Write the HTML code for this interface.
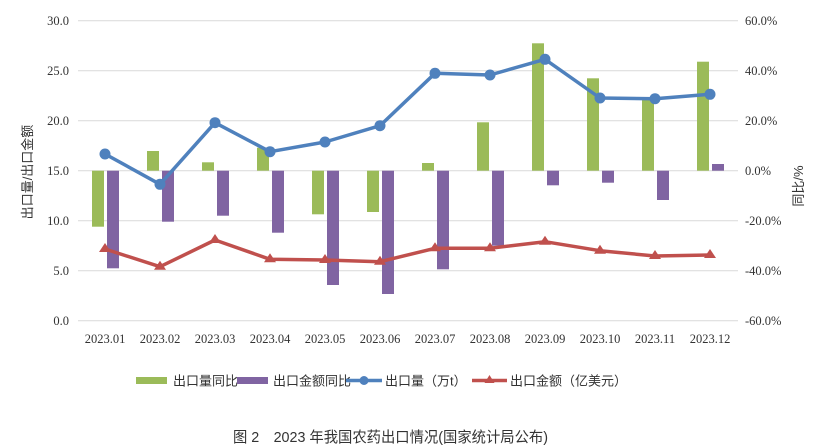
<!DOCTYPE html>
<html><head><meta charset="utf-8"><style>
html,body{margin:0;padding:0;background:#fff;}
svg{display:block;}
text{font-family:"Liberation Serif","Noto Serif CJK SC",serif;fill:#333;}
.cn{font-family:"Liberation Sans","Noto Sans CJK SC",sans-serif;}
</style></head><body>
<svg width="825" height="447" viewBox="0 0 825 447" xmlns="http://www.w3.org/2000/svg">
<g stroke="#d9d9d9" stroke-width="1">
<line x1="78" y1="20.7" x2="738" y2="20.7"/><line x1="78" y1="70.7" x2="738" y2="70.7"/>
<line x1="78" y1="120.7" x2="738" y2="120.7"/><line x1="78" y1="170.7" x2="738" y2="170.7"/>
<line x1="78" y1="220.7" x2="738" y2="220.7"/><line x1="78" y1="270.7" x2="738" y2="270.7"/>
<line x1="78" y1="320.7" x2="738" y2="320.7"/>
</g>
<g font-size="12.5" text-anchor="end">
<text x="69" y="25">30.0</text><text x="69" y="75">25.0</text><text x="69" y="125">20.0</text>
<text x="69" y="175">15.0</text><text x="69" y="225">10.0</text><text x="69" y="275">5.0</text><text x="69" y="325">0.0</text>
</g>
<g font-size="12.5">
<text x="745" y="25">60.0%</text><text x="745" y="75">40.0%</text><text x="745" y="125">20.0%</text>
<text x="745" y="175">0.0%</text><text x="745" y="225">-20.0%</text><text x="745" y="275">-40.0%</text><text x="745" y="325">-60.0%</text>
</g>
<text class="cn" font-size="13" fill="#444" transform="translate(32,172) rotate(-90)" text-anchor="middle">出口量/出口金额</text>
<text class="cn" font-size="13" fill="#444" transform="translate(803,186) rotate(-90)" text-anchor="middle">同比/%</text>
<g fill="#9bbb59">
<rect x="92" y="170.7" width="12" height="56"/>
<rect x="147" y="151" width="12" height="19.7"/>
<rect x="202" y="162.3" width="12" height="8.4"/>
<rect x="257" y="147.7" width="12" height="23"/>
<rect x="312" y="170.7" width="12" height="43.6"/>
<rect x="367" y="170.7" width="12" height="41.3"/>
<rect x="422" y="163" width="12" height="7.7"/>
<rect x="477" y="122.3" width="12" height="48.4"/>
<rect x="532" y="43.3" width="12" height="127.4"/>
<rect x="587" y="78.3" width="12" height="92.4"/>
<rect x="642" y="98" width="12" height="72.7"/>
<rect x="697" y="61.7" width="12" height="109"/>
</g>
<g fill="#8064a2">
<rect x="107" y="170.7" width="12" height="97.6"/>
<rect x="162" y="170.7" width="12" height="51"/>
<rect x="217" y="170.7" width="12" height="45"/>
<rect x="272" y="170.7" width="12" height="62"/>
<rect x="327" y="170.7" width="12" height="114.3"/>
<rect x="382" y="170.7" width="12" height="123.3"/>
<rect x="437" y="170.7" width="12" height="98.6"/>
<rect x="492" y="170.7" width="12" height="75"/>
<rect x="547" y="170.7" width="12" height="14.6"/>
<rect x="602" y="170.7" width="12" height="12"/>
<rect x="657" y="170.7" width="12" height="29.3"/>
<rect x="712" y="164" width="12" height="6.7"/>
</g>
<polyline fill="none" stroke="#4f81bd" stroke-width="3.5" stroke-linejoin="round" points="105,154 160,184.3 215,122.7 270,151.7 325,142 380,125.7 435,73.3 490,75 545,59.3 600,98 655,98.7 710,94.3"/>
<g fill="#4f81bd">
<circle cx="105" cy="154" r="5.5"/><circle cx="160" cy="184.3" r="5.5"/><circle cx="215" cy="122.7" r="5.5"/><circle cx="270" cy="151.7" r="5.5"/><circle cx="325" cy="142" r="5.5"/><circle cx="380" cy="125.7" r="5.5"/><circle cx="435" cy="73.3" r="5.5"/><circle cx="490" cy="75" r="5.5"/><circle cx="545" cy="59.3" r="5.5"/><circle cx="600" cy="98" r="5.5"/><circle cx="655" cy="98.7" r="5.5"/><circle cx="710" cy="94.3" r="5.5"/>
</g>
<polyline fill="none" stroke="#c0504d" stroke-width="3.5" stroke-linejoin="round" points="105,249 160,266.7 215,240 270,259.3 325,260 380,261.7 435,248.3 490,248.3 545,241.7 600,250.7 655,256 710,255"/>
<g fill="#c0504d">
<path d="M105,243 l6,9 h-12z"/><path d="M160,260.7 l6,9 h-12z"/><path d="M215,234 l6,9 h-12z"/><path d="M270,253.3 l6,9 h-12z"/><path d="M325,254 l6,9 h-12z"/><path d="M380,255.7 l6,9 h-12z"/><path d="M435,242.3 l6,9 h-12z"/><path d="M490,242.3 l6,9 h-12z"/><path d="M545,235.7 l6,9 h-12z"/><path d="M600,244.7 l6,9 h-12z"/><path d="M655,250 l6,9 h-12z"/><path d="M710,249 l6,9 h-12z"/>
</g>
<g font-size="12.5" text-anchor="middle">
<text x="105" y="343">2023.01</text><text x="160" y="343">2023.02</text><text x="215" y="343">2023.03</text><text x="270" y="343">2023.04</text><text x="325" y="343">2023.05</text><text x="380" y="343">2023.06</text><text x="435" y="343">2023.07</text><text x="490" y="343">2023.08</text><text x="545" y="343">2023.09</text><text x="600" y="343">2023.10</text><text x="655" y="343">2023.11</text><text x="710" y="343">2023.12</text>
</g>
<rect x="136" y="377" width="31" height="7" fill="#9bbb59"/>
<text class="cn" x="173" y="385.5" font-size="13">出口量同比</text>
<rect x="237" y="377" width="31" height="7" fill="#8064a2"/>
<text class="cn" x="273" y="385.5" font-size="13">出口金额同比</text>
<line x1="346" y1="380.5" x2="382" y2="380.5" stroke="#4f81bd" stroke-width="3.5"/><circle cx="364" cy="380.5" r="4.5" fill="#4f81bd"/>
<text class="cn" x="385" y="385.5" font-size="13">出口量（万t）</text>
<line x1="472" y1="380.5" x2="507" y2="380.5" stroke="#c0504d" stroke-width="3.5"/><path d="M489.5,375 l5,8 h-10z" fill="#c0504d"/>
<text class="cn" x="510" y="385.5" font-size="13">出口金额（亿美元）</text>
<text class="cn" x="233" y="442" font-size="15" fill="#222" textLength="315" lengthAdjust="spacingAndGlyphs">图 2　2023 年我国农药出口情况(国家统计局公布)</text>
</svg>
</body></html>
